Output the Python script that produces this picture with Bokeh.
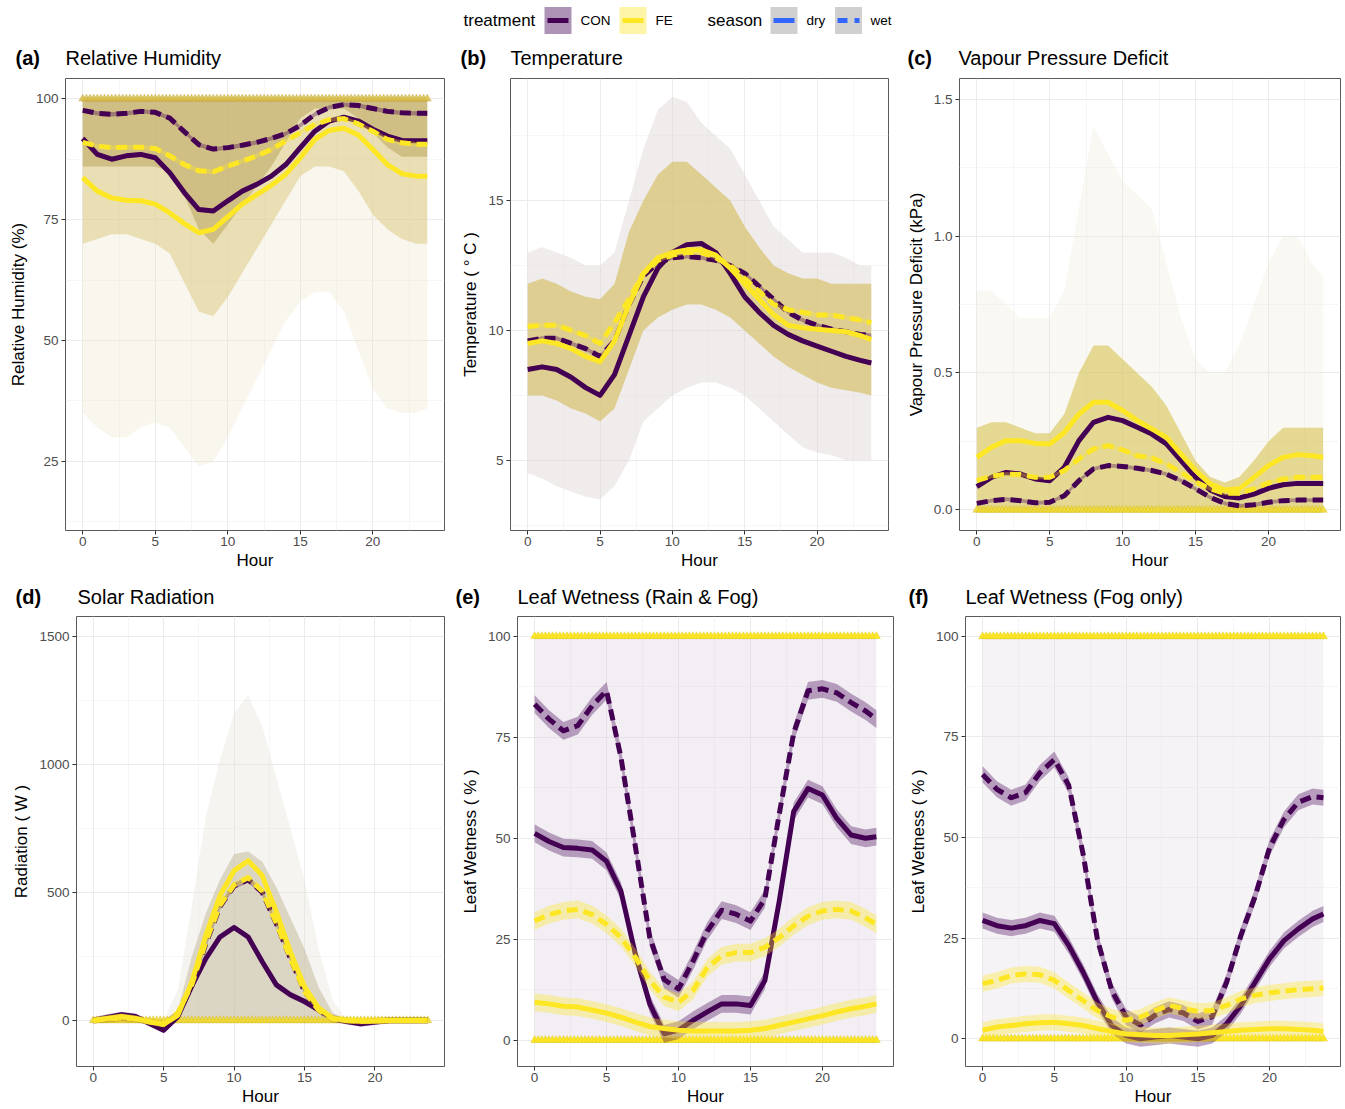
from bokeh.plotting import figure
from bokeh.layouts import column, row
from bokeh.models import Label, FixedTicker, Range1d, PrintfTickFormatter
from bokeh.embed import file_html
from bokeh.resources import INLINE

FONT = "Liberation Sans"
CON = "#440154"
FE = "#FDE725"

# ---------------- data ----------------
hours = [0, 1, 2, 3, 4, 5, 6, 7, 8, 9, 10, 11, 12, 13, 14, 15, 16, 17, 18, 19, 20, 21, 22, 23, 23.75]
quarter_hours = [i / 4 for i in range(96)]
x_ticks = [0, 5, 10, 15, 20]

# (a) Relative humidity (%)
rh_con_dry = [91.8, 88.5, 87.5, 88.2, 88.5, 87.8, 84.7, 80.6, 77.1, 76.8, 78.9, 80.9, 82.3, 84.0, 86.4, 89.9, 93.3, 95.4, 96.2, 95.4, 93.7, 92.3, 91.4, 91.3, 91.3]
rh_con_wet = [97.6, 97.0, 96.8, 97.0, 97.4, 97.2, 96.0, 93.2, 90.5, 89.6, 89.9, 90.4, 91.0, 91.8, 92.8, 94.5, 96.8, 98.2, 98.8, 98.6, 98.0, 97.4, 97.1, 97.0, 97.0]
rh_fe_dry = [83.7, 80.9, 79.5, 79.0, 78.9, 78.2, 76.4, 74.2, 72.3, 73.0, 75.6, 78.2, 80.2, 82.1, 84.4, 87.8, 91.6, 93.5, 93.9, 92.5, 89.5, 86.4, 84.5, 84.0, 84.0]
rh_fe_wet = [91.0, 90.2, 89.9, 90.0, 90.0, 89.7, 88.2, 86.4, 85.1, 84.9, 86.1, 87.1, 88.2, 89.5, 91.3, 93.0, 94.7, 95.7, 95.9, 94.8, 93.3, 91.6, 90.9, 90.6, 90.6]
rh_cloud_outer = [35, 32, 30, 30, 32, 33, 32, 28, 24, 25, 30, 36, 42, 48, 54, 58, 60, 60, 56, 48, 40, 36, 35, 35, 36]
rh_cloud_mid = [70, 71, 72, 72, 71, 70, 68, 62, 56, 55, 59, 64, 69, 74, 79, 84, 86, 86, 85, 81, 76, 73, 71, 70, 70]
rh_cloud_core = [86, 86, 86, 86, 86, 86, 85, 80, 73, 70, 74, 78, 82, 86, 91, 96, 98, 98, 98, 96, 93, 90, 88, 88, 88]

# (b) Temperature (deg C)
t_con_dry = [8.5, 8.6, 8.5, 8.2, 7.8, 7.5, 8.3, 9.8, 11.3, 12.4, 13.0, 13.3, 13.35, 13.0, 12.2, 11.3, 10.7, 10.2, 9.85, 9.6, 9.4, 9.2, 9.0, 8.85, 8.75]
t_con_wet = [9.6, 9.7, 9.7, 9.5, 9.3, 9.0, 9.6, 11.0, 12.1, 12.6, 12.8, 12.85, 12.8, 12.7, 12.5, 12.2, 11.7, 11.2, 10.7, 10.4, 10.2, 10.05, 9.95, 9.85, 9.8]
t_fe_dry = [9.5, 9.6, 9.5, 9.3, 9.0, 8.8, 9.6, 11.0, 12.2, 12.8, 13.0, 13.1, 13.1, 12.9, 12.4, 11.8, 11.2, 10.6, 10.2, 10.1, 10.05, 10.0, 9.95, 9.8, 9.65]
t_fe_wet = [10.15, 10.2, 10.2, 10.0, 9.8, 9.5, 10.3, 11.2, 12.2, 12.7, 12.9, 13.0, 13.0, 12.8, 12.5, 12.0, 11.5, 11.0, 10.8, 10.7, 10.6, 10.6, 10.5, 10.4, 10.3]
t_cloud_outer_lo = [4.5, 4.3, 4.0, 3.8, 3.6, 3.5, 4.0, 5.0, 6.5, 7.0, 7.5, 7.8, 8.0, 8.0, 7.8, 7.5, 7.0, 6.5, 6.0, 5.5, 5.3, 5.2, 5.0, 5.0, 5.0]
t_cloud_outer_hi = [13.0, 13.2, 13.0, 12.8, 12.5, 12.5, 13.0, 15.0, 17.0, 18.5, 19.0, 18.8, 18.0, 17.5, 17.0, 16.0, 15.0, 14.0, 13.5, 13.0, 13.0, 13.0, 12.8, 12.5, 12.5]
t_cloud_core_lo = [7.5, 7.5, 7.3, 7.0, 6.8, 6.5, 7.0, 8.5, 10.0, 10.5, 10.8, 11.0, 11.0, 10.8, 10.5, 10.0, 9.5, 9.0, 8.6, 8.3, 8.0, 7.8, 7.7, 7.6, 7.5]
t_cloud_core_hi = [11.8, 12.0, 11.8, 11.5, 11.3, 11.2, 11.8, 13.8, 15.0, 16.0, 16.5, 16.5, 16.0, 15.5, 15.0, 14.0, 13.2, 12.5, 12.2, 12.0, 12.0, 11.8, 11.8, 11.8, 11.8]

# (c) Vapour pressure deficit (kPa)
v_con_dry = [0.085, 0.119, 0.137, 0.131, 0.113, 0.107, 0.156, 0.253, 0.320, 0.338, 0.326, 0.302, 0.277, 0.241, 0.180, 0.119, 0.073, 0.049, 0.044, 0.058, 0.079, 0.092, 0.097, 0.097, 0.097]
v_con_wet = [0.024, 0.034, 0.039, 0.034, 0.026, 0.028, 0.052, 0.107, 0.150, 0.162, 0.159, 0.152, 0.144, 0.131, 0.107, 0.077, 0.046, 0.024, 0.015, 0.019, 0.028, 0.034, 0.036, 0.036, 0.036]
v_fe_dry = [0.192, 0.229, 0.253, 0.253, 0.243, 0.241, 0.283, 0.350, 0.393, 0.393, 0.363, 0.326, 0.296, 0.265, 0.204, 0.144, 0.095, 0.073, 0.077, 0.119, 0.162, 0.192, 0.202, 0.198, 0.192]
v_fe_wet = [0.107, 0.123, 0.131, 0.129, 0.119, 0.119, 0.144, 0.186, 0.223, 0.235, 0.219, 0.198, 0.190, 0.168, 0.137, 0.103, 0.077, 0.061, 0.061, 0.077, 0.099, 0.113, 0.119, 0.119, 0.119]
v_cloud_outer = [0.8, 0.8, 0.75, 0.7, 0.7, 0.7, 0.8, 1.1, 1.4, 1.3, 1.2, 1.15, 1.1, 0.9, 0.7, 0.55, 0.5, 0.5, 0.6, 0.75, 0.9, 1.0, 1.0, 0.9, 0.85]
v_cloud_core = [0.3, 0.32, 0.32, 0.3, 0.28, 0.28, 0.35, 0.5, 0.6, 0.6, 0.55, 0.5, 0.45, 0.38, 0.28, 0.18, 0.12, 0.1, 0.12, 0.18, 0.25, 0.3, 0.3, 0.3, 0.3]

# (d) Solar radiation (W)
s_con_dry = [0, 12, 22, 15, -12, -38, 15, 135, 242, 326, 363, 326, 229, 139, 100, 74, 41, 9, -4, -13, -6, 0, 0, 0, 0]
s_con_wet = [0, 5, 10, 5, -5, -15, 25, 135, 300, 445, 525, 550, 500, 378, 242, 113, 40, 5, -2, -5, -3, 0, 0, 0, 0]
s_fe_dry = [0, 8, 15, 8, -5, -15, 20, 150, 333, 488, 585, 624, 566, 424, 268, 132, 48, 9, 0, -2, -2, 0, 0, 0, 0]
s_fe_wet = [0, 5, 10, 5, -5, -15, 30, 140, 307, 450, 530, 558, 505, 380, 242, 113, 40, 5, 0, -3, -2, 0, 0, 0, 0]
s_cloud_outer = [0, 0, 0, 0, 0, 0, 120, 450, 800, 1020, 1200, 1270, 1150, 950, 750, 550, 280, 80, 0, 0, 0, 0, 0, 0, 0]
s_cloud_core = [0, 0, 0, 0, 0, 0, 40, 250, 420, 550, 650, 660, 620, 520, 400, 280, 130, 30, 0, 0, 0, 0, 0, 0, 0]

# (e) Leaf wetness, rain & fog (%)
e_con_dry = [51.2, 49.2, 47.7, 47.5, 47.1, 44.3, 36.9, 21.3, 9.0, 1.6, 2.5, 4.9, 7.0, 9.0, 9.0, 8.6, 14.8, 34.4, 56.6, 62.3, 60.7, 54.9, 50.8, 50.0, 50.4]
e_con_wet = [83.2, 79.5, 76.6, 77.9, 82.8, 86.5, 70.0, 48.0, 25.5, 15.0, 12.7, 19.5, 27.0, 32.2, 31.2, 29.5, 35.0, 56.0, 76.0, 86.5, 87.0, 86.0, 83.6, 81.5, 79.5]
e_fe_dry = [9.4, 9.0, 8.4, 8.2, 7.5, 6.7, 5.7, 4.5, 3.4, 2.9, 2.5, 2.3, 2.3, 2.3, 2.3, 2.5, 2.9, 3.7, 4.5, 5.3, 6.1, 7.0, 7.8, 8.4, 9.0]
e_fe_wet = [29.5, 31.1, 32.0, 32.4, 31.1, 28.7, 25.4, 20.5, 14.8, 10.7, 9.4, 12.3, 18.0, 20.9, 21.7, 21.7, 23.0, 25.4, 28.3, 30.7, 32.0, 32.4, 32.0, 30.3, 28.7]

# (f) Leaf wetness, fog only (%)
f_con_dry = [29.4, 28.1, 27.5, 28.1, 29.4, 28.6, 23.2, 16.6, 9.1, 3.3, 0.8, 0.0, 0.4, 0.8, 0.4, 0.0, 0.8, 3.7, 8.3, 14.1, 19.9, 24.4, 27.3, 29.8, 31.0]
f_con_wet = [65.7, 62.0, 59.9, 61.2, 66.1, 69.4, 63.0, 46.0, 24.7, 12.0, 5.4, 3.4, 5.8, 7.3, 6.4, 4.3, 5.5, 14.0, 25.7, 35.5, 47.5, 54.5, 58.8, 60.2, 59.9]
f_fe_dry = [2.1, 2.9, 3.3, 3.7, 4.0, 4.1, 3.7, 3.3, 2.5, 1.8, 1.2, 1.0, 0.8, 0.8, 1.0, 1.2, 1.5, 1.8, 2.1, 2.3, 2.5, 2.5, 2.3, 2.1, 1.8]
f_fe_wet = [13.7, 14.5, 15.7, 16.1, 15.9, 14.5, 12.0, 9.5, 7.0, 5.4, 4.6, 5.4, 7.0, 8.3, 7.5, 6.8, 7.0, 8.3, 9.9, 10.8, 11.4, 11.8, 12.2, 12.4, 12.6]

# confidence half-widths of the smooths
ci_half = {"a": 0.45, "b": 0.08, "c": 0.007, "d": 12, "e": 2.2, "f": 2.0}

panel_tags = ["(a)", "(b)", "(c)", "(d)", "(e)", "(f)"]
panel_titles = ["Relative Humidity", "Temperature", "Vapour Pressure Deficit",
                "Solar Radiation", "Leaf Wetness (Rain & Fog)", "Leaf Wetness (Fog only)"]


# ---------------- helpers ----------------
def make_fig(w, h, yr, bl, br, bt, bb):
    p = figure(width=w, height=h, x_range=Range1d(-1.19, 24.94), y_range=Range1d(*yr),
               output_backend="svg", toolbar_location=None,
               min_border_left=bl, min_border_right=br, min_border_top=bt, min_border_bottom=bb)
    p.background_fill_color = "white"
    p.border_fill_color = "white"
    p.outline_line_color = "#5a5a5a"
    p.outline_line_width = 1
    return p


def style(p, yticks, yminor, ylabel, fmt=None):
    p.xaxis.ticker = FixedTicker(ticks=x_ticks, minor_ticks=[2.5, 7.5, 12.5, 17.5, 22.5])
    p.yaxis.ticker = FixedTicker(ticks=yticks, minor_ticks=yminor)
    if fmt:
        p.yaxis.formatter = PrintfTickFormatter(format=fmt)
    for g in (p.xgrid, p.ygrid):
        g.grid_line_color = "#ebebeb"
        g.grid_line_width = 1
        g.minor_grid_line_color = "#f2f2f2"
        g.minor_grid_line_width = 0.7
    for ax in (p.xaxis, p.yaxis):
        ax.axis_line_color = None
        ax.major_tick_line_color = "#333333"
        ax.major_tick_out = 4
        ax.major_tick_in = 0
        ax.minor_tick_line_color = None
        ax.major_label_text_font = FONT
        ax.major_label_text_font_size = "13.5px"
        ax.major_label_text_color = "#4d4d4d"
        ax.major_label_standoff = 3
        ax.axis_label_text_font = FONT
        ax.axis_label_text_font_size = "17px"
        ax.axis_label_text_font_style = "normal"
        ax.axis_label_text_color = "black"
    p.xaxis.axis_label = "Hour"
    p.xaxis.major_label_standoff = 2
    p.xaxis.axis_label_standoff = 2
    p.yaxis.axis_label = ylabel
    p.yaxis.axis_label_standoff = 5


def smooths(p, con_dry, con_wet, fe_dry, fe_wet, ci):
    for ys, col, dash in [(con_dry, CON, "solid"), (con_wet, CON, "11 6"),
                          (fe_dry, FE, "solid"), (fe_wet, FE, "11 6")]:
        p.varea(x=hours, y1=[v - ci for v in ys], y2=[v + ci for v in ys],
                fill_color=col, fill_alpha=0.35)
        p.line(hours, ys, line_color=col, line_width=5, line_dash=dash, line_join="round")


def point_row(p, yval, fill, line, alpha=0.85):
    p.scatter(quarter_hours, [yval] * len(quarter_hours), marker="triangle", size=8,
              fill_color=fill, line_color=line, fill_alpha=alpha, line_alpha=0.6, line_width=0.6)


def strip(width, height):
    s = figure(width=width, height=height, x_range=Range1d(0, width), y_range=Range1d(height, 0),
               output_backend="svg", toolbar_location=None,
               min_border_left=0, min_border_right=0, min_border_top=0, min_border_bottom=0)
    s.axis.visible = False
    s.grid.visible = False
    s.outline_line_color = None
    s.background_fill_color = "white"
    s.border_fill_color = "white"
    return s


def title_strip(height, ycenter, tag_x, title_x, tags, names):
    s = strip(TOTAL_W, height)
    for tx, nx, tg, nm in zip(tag_x, title_x, tags, names):
        s.add_layout(Label(x=tx, y=ycenter, text=tg, text_font=FONT, text_font_size="20px",
                           text_font_style="bold", text_baseline="middle", text_align="left",
                           text_color="black"))
        s.add_layout(Label(x=nx, y=ycenter, text=nm, text_font=FONT, text_font_size="20px",
                           text_baseline="middle", text_align="left", text_color="black"))
    return s


# ---------------- geometry ----------------
W1, W2, W3 = 455, 448, 440
TOTAL_W = W1 + W2 + W3
H_LEG, H_T1, H1, H_T2, H2 = 40, 37, 501, 37, 493

# (a)
yr_a = (10.7, 104.2)
pa = make_fig(W1, H1, yr_a, 65, 11, 1, 48)
style(pa, [25, 50, 75, 100], [12.5, 37.5, 62.5, 87.5], "Relative Humidity (%)")
pa.varea(x=hours, y1=rh_cloud_outer, y2=100, fill_color="#ece4c4", fill_alpha=0.3)
pa.varea(x=hours, y1=rh_cloud_mid, y2=100, fill_color="#dccb85", fill_alpha=0.55)
pa.varea(x=hours, y1=rh_cloud_core, y2=100, fill_color="#bca55c", fill_alpha=0.55)
point_row(pa, 100, "#d9c046", "#b89e35")
smooths(pa, rh_con_dry, rh_con_wet, rh_fe_dry, rh_fe_wet, ci_half["a"])

# (b)
yr_b = (2.3, 19.7)
pb = make_fig(W2, H1, yr_b, 55, 15, 1, 48)
style(pb, [5, 10, 15], [2.5, 7.5, 12.5, 17.5], "Temperature ( \u00b0 C )")
pb.varea(x=hours, y1=t_cloud_outer_lo, y2=t_cloud_outer_hi, fill_color="#ddd5d5", fill_alpha=0.45)
pb.varea(x=hours, y1=t_cloud_core_lo, y2=t_cloud_core_hi, fill_color="#d4bf62", fill_alpha=0.65)
smooths(pb, t_con_dry, t_con_wet, t_fe_dry, t_fe_wet, ci_half["b"])

# (c)
yr_c = (-0.075, 1.575)
pc = make_fig(W3, H1, yr_c, 55, 3, 1, 48)
style(pc, [0, 0.5, 1.0, 1.5], [0.25, 0.75, 1.25], "Vapour Pressure Deficit (kPa)", fmt="%.1f")
pc.varea(x=hours, y1=0, y2=v_cloud_outer, fill_color="#ebe5cf", fill_alpha=0.25)
pc.varea(x=hours, y1=0, y2=v_cloud_core, fill_color="#d9c660", fill_alpha=0.65)
point_row(pc, 0, "#f0d830", "#d0b820")
smooths(pc, v_con_dry, v_con_wet, v_fe_dry, v_fe_wet, ci_half["c"])

# (d)
yr_d = (-180, 1578)
pd_ = make_fig(W1, H2, yr_d, 76, 11, 1, 40)
style(pd_, [0, 500, 1000, 1500], [250, 750, 1250], "Radiation ( W )")
pd_.varea(x=hours, y1=0, y2=s_cloud_outer, fill_color="#e6e0d8", fill_alpha=0.35)
pd_.varea(x=hours, y1=0, y2=s_cloud_core, fill_color="#c9bfa6", fill_alpha=0.6)
point_row(pd_, 0, "#f0d830", "#d0b820")
smooths(pd_, s_con_dry, s_con_wet, s_fe_dry, s_fe_wet, ci_half["d"])

# (e)
yr_e = (-6.5, 104.9)
pe = make_fig(W2, H2, yr_e, 62, 10, 1, 40)
style(pe, [0, 25, 50, 75, 100], [12.5, 37.5, 62.5, 87.5], "Leaf Wetness ( % )")
pe.varea(x=hours, y1=0, y2=100, fill_color="#d9cfe0", fill_alpha=0.35)
point_row(pe, 100, FE, "#d8c020", 1.0)
point_row(pe, 0, FE, "#d8c020", 1.0)
smooths(pe, e_con_dry, e_con_wet, e_fe_dry, e_fe_wet, ci_half["e"])

# (f)
yr_f = (-6.9, 104.95)
pf = make_fig(W3, H2, yr_f, 62, 3, 1, 40)
style(pf, [0, 25, 50, 75, 100], [12.5, 37.5, 62.5, 87.5], "Leaf Wetness ( % )")
pf.varea(x=hours, y1=0, y2=100, fill_color="#e0d8e4", fill_alpha=0.3)
point_row(pf, 100, FE, "#d8c020", 1.0)
point_row(pf, 0, FE, "#d8c020", 1.0)
smooths(pf, f_con_dry, f_con_wet, f_fe_dry, f_fe_wet, ci_half["f"])

# ---------------- title strips ----------------
t1 = title_strip(H_T1, 17, [15, 460, 907], [65, 510, 958], panel_tags[:3], panel_titles[:3])
t2 = title_strip(H_T2, 18, [15, 455, 908], [77, 517, 965], panel_tags[3:], panel_titles[3:])

# ---------------- legend strip ----------------
lg = strip(TOTAL_W, H_LEG)
legend_titles = [("treatment", 463), ("season", 707)]
legend_labels = [("CON", 580), ("FE", 655), ("dry", 806), ("wet", 870)]
key_boxes = [(557.5, "#ae93b6"), (632.5, "#fef5a8"), (783.5, "#d0d0d0"), (848.0, "#d0d0d0")]
key_lines = [(547, 568, CON, "solid"), (622, 643, FE, "solid"),
             (773, 794, "#3366FF", "solid"), (837, 859, "#3366FF", "10 7")]
for txt, x in legend_titles:
    lg.add_layout(Label(x=x, y=20, text=txt, text_font=FONT, text_font_size="17px",
                        text_baseline="middle", text_align="left", text_color="black"))
for txt, x in legend_labels:
    lg.add_layout(Label(x=x, y=20, text=txt, text_font=FONT, text_font_size="13.5px",
                        text_baseline="middle", text_align="left", text_color="black"))
lg.rect(x=[b[0] for b in key_boxes], y=[20] * len(key_boxes), width=27, height=27,
        fill_color=[b[1] for b in key_boxes], line_color=None)
for x0, x1, c, d in key_lines:
    lg.segment(x0=[x0], y0=[20], x1=[x1], y1=[20], line_color=c, line_width=5, line_dash=d)

layout = column(lg, t1, row(pa, pb, pc), t2, row(pd_, pe, pf))
open("out.html", "w").write(file_html(layout, INLINE))
